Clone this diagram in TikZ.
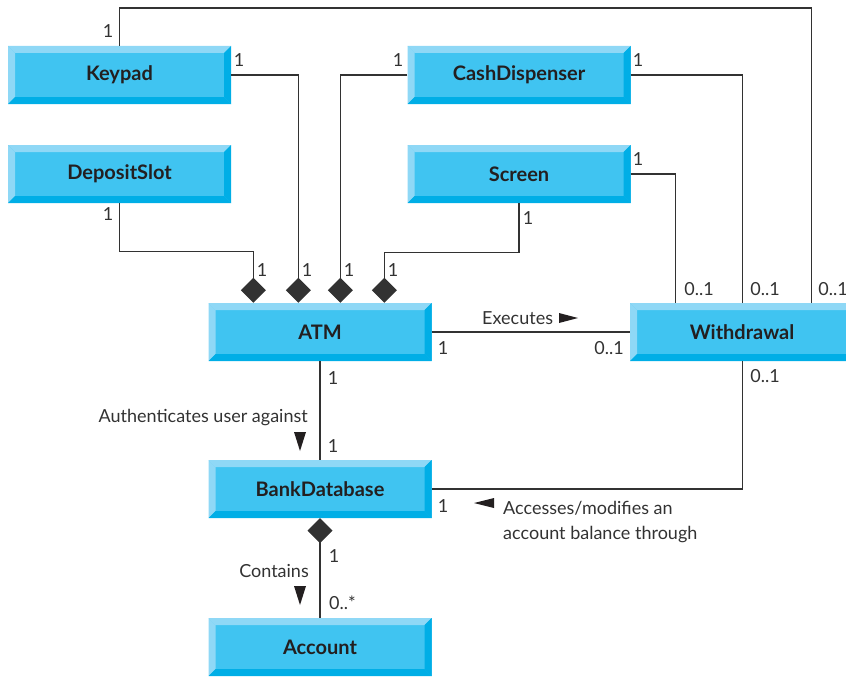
\documentclass[tikz,border=0pt]{standalone}
\usepackage{fontspec}
\setmainfont{Lato}
\usetikzlibrary{arrows.meta}
\definecolor{face}{RGB}{64,196,241}
\definecolor{bevlight}{RGB}{143,216,246}
\definecolor{bevdark}{RGB}{0,174,230}
\definecolor{ink}{RGB}{35,31,32}
\definecolor{wire}{RGB}{50,50,50}
\tikzset{
  cls/.style={rectangle, inner sep=0pt, minimum width=223pt, minimum height=58pt,
    fill=face, text=ink, font=\fontsize{20}{22}\selectfont\bfseries,
    path picture={
      \fill[bevlight] (path picture bounding box.north west) -- (path picture bounding box.north east)
        -- ([shift={(-7pt,-7pt)}]path picture bounding box.north east)
        -- ([shift={(7pt,-7pt)}]path picture bounding box.north west) -- cycle;
      \fill[bevlight] (path picture bounding box.north west) -- ([shift={(7pt,-7pt)}]path picture bounding box.north west)
        -- ([shift={(7pt,7pt)}]path picture bounding box.south west)
        -- (path picture bounding box.south west) -- cycle;
      \fill[bevdark] (path picture bounding box.south west) -- (path picture bounding box.south east)
        -- ([shift={(-7pt,7pt)}]path picture bounding box.south east)
        -- ([shift={(7pt,7pt)}]path picture bounding box.south west) -- cycle;
      \fill[bevdark] (path picture bounding box.north east) -- (path picture bounding box.south east)
        -- ([shift={(-7pt,7pt)}]path picture bounding box.south east)
        -- ([shift={(-7pt,-7pt)}]path picture bounding box.north east) -- cycle;
    }},
  wireline/.style={draw=wire, line width=1.3pt},
  comp/.style={wireline, -{Diamond[length=25pt,width=25pt]}},
  lab/.style={inner sep=0pt, text=wire, font=\fontsize{18}{25}\selectfont},
  tri/.style={fill=ink},
}
\begin{document}
\begin{tikzpicture}[x=1pt,y=-1pt]
\useasboundingbox (0,0) rectangle (846,677);
% classes
\node[cls] (Keypad) at (119.5,75) {Keypad};
\node[cls] (DepositSlot) at (119.5,174) {DepositSlot};
\node[cls] (CashDispenser) at (519,75) {CashDispenser};
\node[cls] (Screen) at (519,174) {Screen};
\node[cls] (ATM) at (320,332) {ATM};
\node[cls, minimum width=224pt] (Withdrawal) at (742,332) {Withdrawal};
\node[cls] (BankDatabase) at (320,489) {BankDatabase};
\node[cls] (Account) at (320,647) {Account};
% anchor points
\coordinate (a1) at ([xshift=45pt]ATM.north west);
\coordinate (a2) at ([xshift=90pt]ATM.north west);
\coordinate (a3) at ([xshift=132pt]ATM.north west);
\coordinate (a4) at ([xshift=176pt]ATM.north west);
\coordinate (w1) at ([xshift=46pt]Withdrawal.north west);
\coordinate (w2) at ([xshift=113pt]Withdrawal.north west);
\coordinate (w3) at ([xshift=182pt]Withdrawal.north west);
\coordinate (w4) at ([xshift=113pt]Withdrawal.south west);
\coordinate (top) at (500,8);
% connectors
\draw[wireline] (Keypad.north) |- (top) -| (w3);
\draw[comp] (Keypad.east) -| (a2);
\draw[comp] (DepositSlot.south) -- ++(0,48) -| (a1);
\draw[comp] (CashDispenser.west) -| (a3);
\draw[comp] (Screen.south) -- ++(0,49) -| (a4);
\draw[wireline] (CashDispenser.east) -| (w2);
\draw[wireline] (Screen.east) -| (w1);
\draw[wireline] (ATM.east) -- (Withdrawal.west);
\draw[wireline] (ATM.south) -- (BankDatabase.north);
\draw[wireline] (w4) |- (BankDatabase.east);
\draw[comp] (Account.north) -- (BankDatabase.south);
% multiplicities
\node[lab] (m1) at (108,31) {1};
\node[lab] (m2) at (239,60) {1};
\node[lab] (m3) at (108,214) {1};
\node[lab] (m4) at (262,270) {1};
\node[lab] (m5) at (307,270) {1};
\node[lab] (m6) at (349,270) {1};
\node[lab] (m7) at (393,270) {1};
\node[lab] (m8) at (398,60) {1};
\node[lab] (m9) at (638,60) {1};
\node[lab] (m10) at (638,159) {1};
\node[lab] (m11) at (528,218) {1};
\node[lab] (m12) at (699,289) {0..1};
\node[lab] (m13) at (765,289) {0..1};
\node[lab] (m14) at (833,289) {0..1};
\node[lab] (m15) at (443,348) {1};
\node[lab] (m16) at (609,348) {0..1};
\node[lab] (m17) at (765,376) {0..1};
\node[lab] (m18) at (333,378) {1};
\node[lab] (m19) at (333,446) {1};
\node[lab] (m20) at (443,506) {1};
\node[lab] (m21) at (334,556) {1};
\node[lab, anchor=west] (m22) at (329,603) {0..*};
% association names
\node[lab, anchor=base west] (exe) at (482,324) {Executes};
\fill[tri] (559,313) -- (578,318) -- (559,323) -- cycle;
\node[lab, anchor=base east] (auth) at (308,422) {Authenticates user against};
\fill[tri] (294,432) -- (306,432) -- (300,451) -- cycle;
\node[lab, anchor=base east] (cont) at (309,577) {Contains};
\fill[tri] (294,586) -- (306,586) -- (300,605) -- cycle;
\node[lab, anchor=north west, align=left] (acc) at (503,501) {Accesses/modifies an\\account balance through};
\fill[tri] (494,498) -- (494,508) -- (474,503) -- cycle;
\end{tikzpicture}
\end{document}
